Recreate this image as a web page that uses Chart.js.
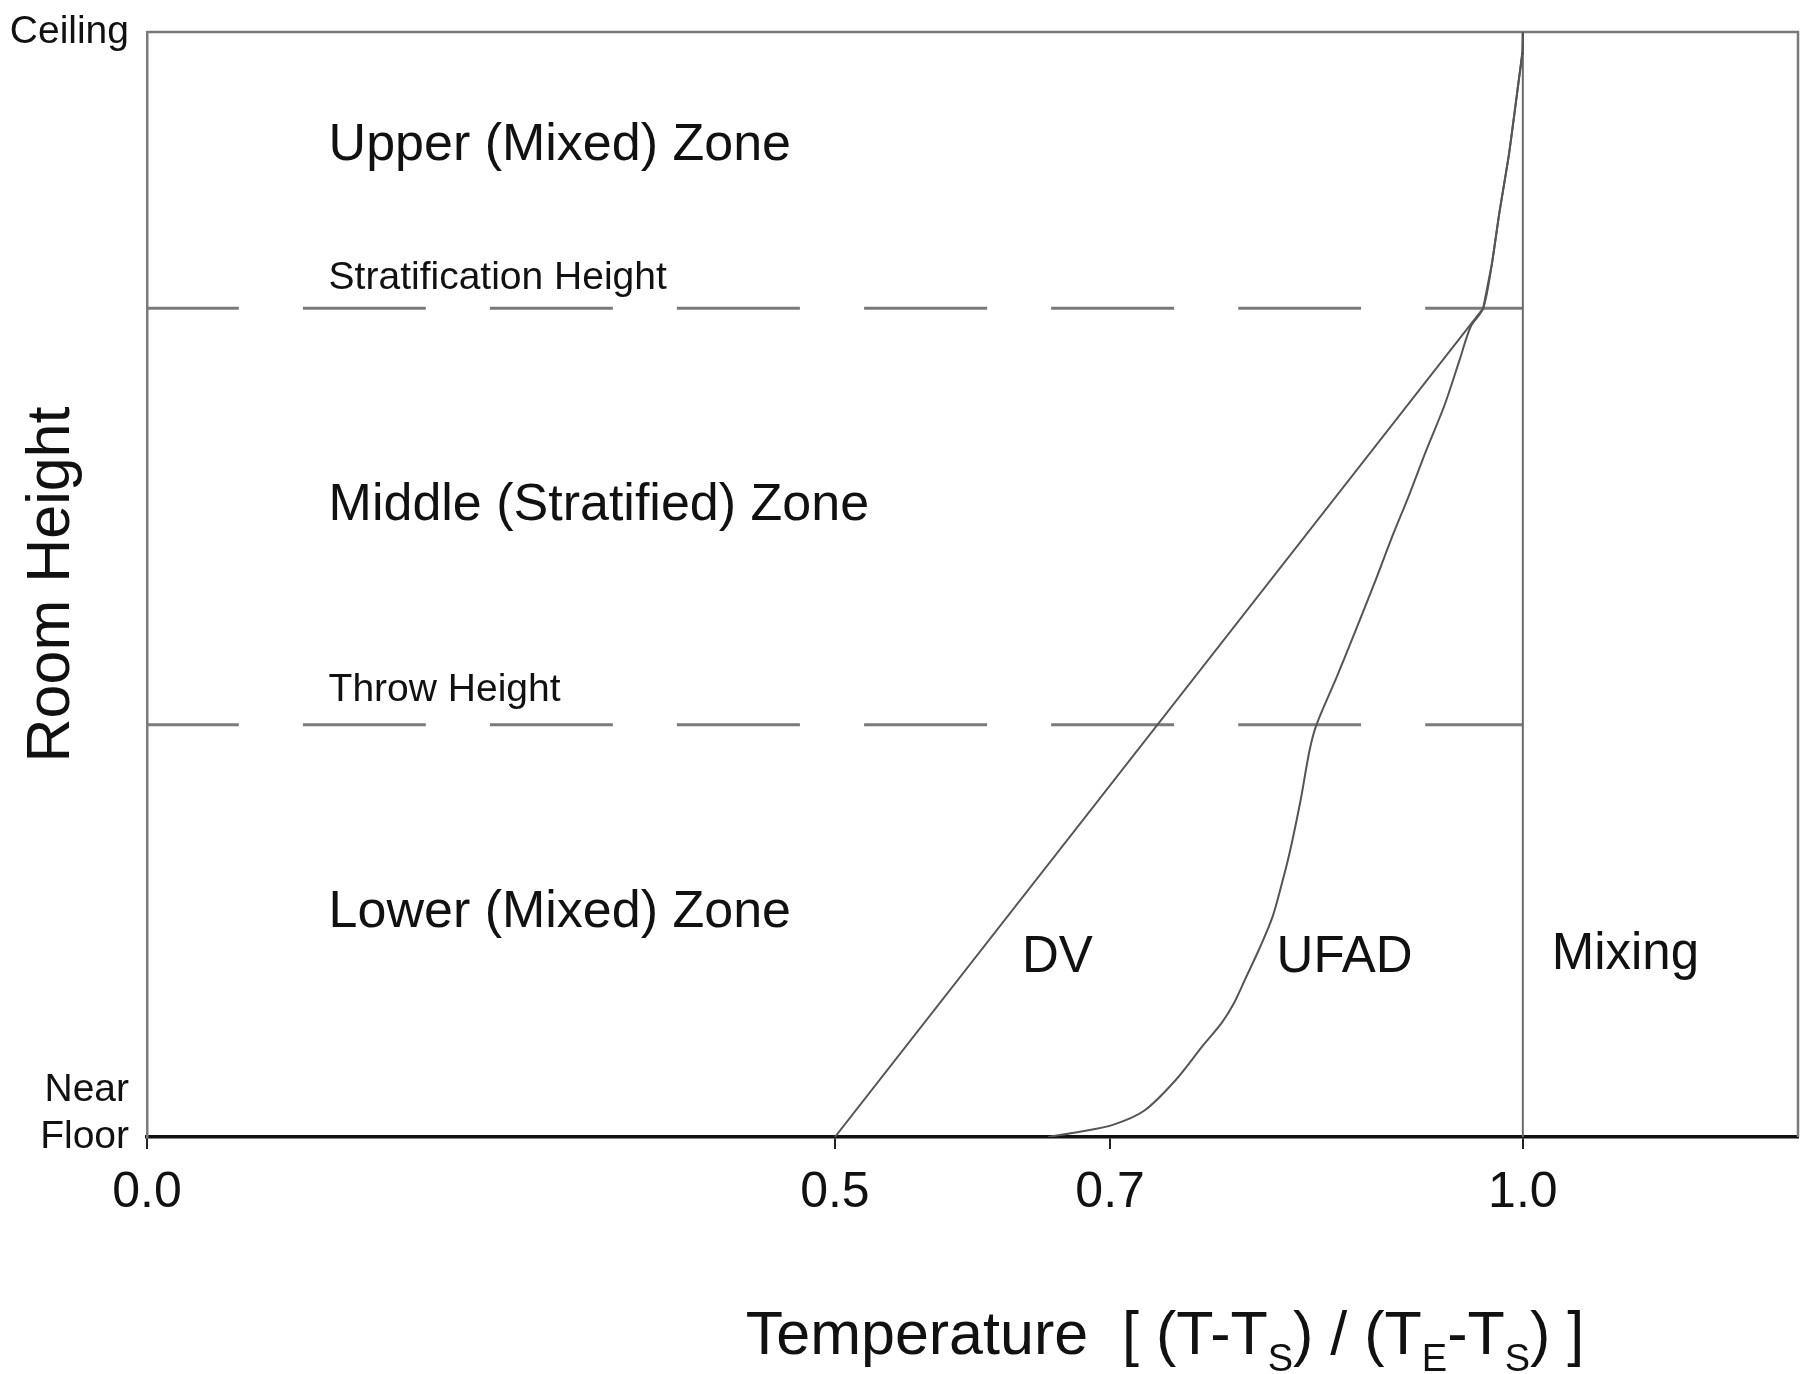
<!DOCTYPE html>
<html>
<head>
<meta charset="utf-8">
<script src="https://cdn.jsdelivr.net/npm/chart.js@4.4.0/dist/chart.umd.min.js"></script>
<style>
  html, body { margin: 0; padding: 0; background: #fff; }
  #wrap { width: 1800px; height: 1374px; position: relative; }
</style>
</head>
<body>
<div id="wrap"><canvas id="roomChart"></canvas></div>
<script>
// dimensionless temperature vs room height (0 = near floor, 1 = ceiling)
const tickValues = [0.0, 0.5, 0.7, 1.0];
const xMax = 1.2;

const dvTemp   = [0.5, 0.9712, 0.9775, 0.9829, 0.990, 0.9968, 0.9995, 1.0];
const dvHeight = [0.0, 0.75, 0.79, 0.836, 0.89, 0.954, 0.98, 1.0];

const ufadTemp   = [0.655, 0.679, 0.702, 0.725, 0.748, 0.767, 0.781, 0.790, 0.799, 0.808, 0.818, 0.825, 0.831, 0.8385, 0.845, 0.850,
                    0.865, 0.879, 0.893, 0.904, 0.918, 0.930, 0.943, 0.954, 0.962, 0.9712, 0.9775, 0.9829, 0.990, 0.9968, 0.9995, 1.0];
const ufadHeight = [0.0, 0.005, 0.011, 0.024, 0.052, 0.082, 0.103, 0.121, 0.145, 0.169, 0.199, 0.230, 0.260, 0.305, 0.350, 0.373,
                    0.417, 0.460, 0.504, 0.540, 0.583, 0.622, 0.662, 0.703, 0.733, 0.75, 0.79, 0.836, 0.89, 0.954, 0.98, 1.0];

const mixTemp   = [1.0, 1.0];
const mixHeight = [0.0, 1.0];

const stratHeight = 0.75;
const throwHeight = 0.373;
const dashTemp = [0.0, 1.0];

const yTickLabels = { 0: ['Near', 'Floor', ''], 1: 'Ceiling' };

// text inside the plot, placed in data units
const notes = [
  { text: 'Upper (Mixed) Zone',        t: 0.132, h: 0.897, size: 52 },
  { text: 'Stratification Height',     t: 0.132, h: 0.777, size: 39 },
  { text: 'Middle (Stratified) Zone',  t: 0.132, h: 0.571, size: 52 },
  { text: 'Throw Height',              t: 0.132, h: 0.4045, size: 39 },
  { text: 'Lower (Mixed) Zone',        t: 0.132, h: 0.203, size: 52 },
  { text: 'DV',                        t: 0.636, h: 0.162, size: 51 },
  { text: 'UFAD',                      t: 0.821, h: 0.162, size: 51 },
  { text: 'Mixing',                    t: 1.021, h: 0.165, size: 51 }
];

const FONT = '"Liberation Sans", Arial, sans-serif';

function pts(xs, ys) { return xs.map((x, i) => ({ x: x, y: ys[i] })); }

const framePlugin = {
  id: 'frame',
  beforeDatasetsDraw(c) {
    const a = c.chartArea, ctx = c.ctx;
    ctx.save();
    ctx.strokeStyle = '#7a7a7a';
    ctx.lineWidth = 2.5;
    ctx.beginPath();
    ctx.moveTo(a.left, a.top);
    ctx.lineTo(a.right, a.top);
    ctx.lineTo(a.right, a.bottom);
    ctx.stroke();
    ctx.restore();
  }
};

const textPlugin = {
  id: 'notes',
  afterDraw(c) {
    const ctx = c.ctx, sx = c.scales.x, sy = c.scales.y;
    ctx.save();
    ctx.fillStyle = '#111';
    ctx.textAlign = 'left';
    ctx.textBaseline = 'middle';
    notes.forEach(n => {
      ctx.font = n.size + 'px ' + FONT;
      ctx.fillText(n.text, sx.getPixelForValue(n.t), sy.getPixelForValue(n.h));
    });

    // x axis title with subscripts
    const parts = [
      ['Temperature  [ (T-T', 0], ['S', 1], [') / (T', 0], ['E', 1], ['-T', 0], ['S', 1], [') ]', 0]
    ];
    const big = '61px ' + FONT, small = '38px ' + FONT;
    let total = 0;
    parts.forEach(p => { ctx.font = p[1] ? small : big; total += ctx.measureText(p[0]).width; });
    let x = 1165 - total / 2;
    const base = 1354;
    ctx.textBaseline = 'alphabetic';
    parts.forEach(p => {
      ctx.font = p[1] ? small : big;
      ctx.fillText(p[0], x, p[1] ? base + 17 : base);
      x += ctx.measureText(p[0]).width;
    });
    ctx.restore();
  }
};

const lineStyle = { showLine: true, pointRadius: 0, fill: false, tension: 0.3 };

new Chart(document.getElementById('roomChart'), {
  type: 'scatter',
  data: {
    datasets: [
      Object.assign({ label: 'DV', data: pts(dvTemp, dvHeight), borderColor: '#555', borderWidth: 2 }, lineStyle, { tension: 0 }),
      Object.assign({ label: 'UFAD', data: pts(ufadTemp, ufadHeight), borderColor: '#555', borderWidth: 2 }, lineStyle),
      Object.assign({ label: 'Mixing', data: pts(mixTemp, mixHeight), borderColor: '#6a6a6a', borderWidth: 2 }, lineStyle),
      Object.assign({ label: 'Stratification Height', data: pts(dashTemp, [stratHeight, stratHeight]),
        borderColor: '#7a7a7a', borderWidth: 3, borderDash: [123, 64], borderDashOffset: 31 }, lineStyle),
      Object.assign({ label: 'Throw Height', data: pts(dashTemp, [throwHeight, throwHeight]),
        borderColor: '#7a7a7a', borderWidth: 3, borderDash: [123, 64], borderDashOffset: 31 }, lineStyle)
    ]
  },
  options: {
    responsive: true,
    maintainAspectRatio: false,
    animation: false,
    layout: { padding: { top: 32, right: 2, left: 0, bottom: 0 } },
    plugins: { legend: { display: false }, tooltip: { enabled: false } },
    scales: {
      x: {
        type: 'linear',
        min: 0,
        max: xMax,
        afterBuildTicks: s => { s.ticks = tickValues.map(v => ({ value: v })); },
        afterFit: s => { s.height = 237; },
        ticks: {
          callback: v => v.toFixed(1),
          color: '#111',
          font: { family: FONT, size: 50 },
          padding: 14,
          maxRotation: 0
        },
        grid: { drawOnChartArea: false, drawTicks: true, tickLength: 12, color: '#222', lineWidth: 2 },
        border: { display: true, color: '#111', width: 3.5 }
      },
      y: {
        type: 'linear',
        min: 0,
        max: 1,
        afterBuildTicks: s => { s.ticks = [{ value: 0 }, { value: 1 }]; },
        // fixed axis width; drop the label overflow padding so the frame starts near the top
        afterFit: s => { s.width = 147; s.paddingTop = 0; s.paddingBottom = 0; },
        ticks: {
          callback: v => yTickLabels[v],
          color: '#111',
          font: { family: FONT, size: 39 },
          padding: 18
        },
        grid: { drawOnChartArea: false, drawTicks: false },
        border: { display: true, color: '#7a7a7a', width: 2.5 },
        title: {
          display: true,
          text: 'Room Height',
          color: '#111',
          font: { family: FONT, size: 61 },
          padding: { top: 16, bottom: 0 }
        }
      }
    }
  },
  plugins: [framePlugin, textPlugin]
});
</script>
</body>
</html>
